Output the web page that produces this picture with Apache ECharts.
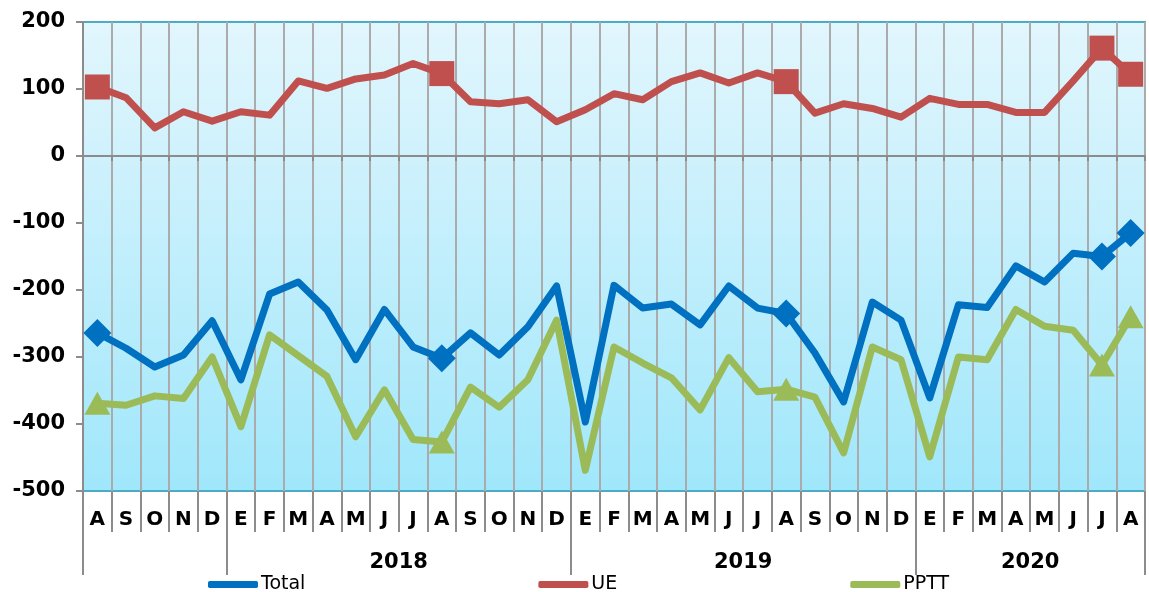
<!DOCTYPE html>
<html>
<head>
<meta charset="utf-8">
<script src="https://cdn.jsdelivr.net/npm/echarts@6/dist/echarts.min.js"></script>
<style>
    html, body { margin: 0; padding: 0; background: #fff; }
    #chart { width: 1149px; height: 592px; }
</style>
</head>
<body>
<div id="chart"></div>
<script>
// months Aug 2017 .. Aug 2020
var months = ["A", "S", "O", "N", "D",
    "E", "F", "M", "A", "M", "J", "J", "A", "S", "O", "N", "D",
    "E", "F", "M", "A", "M", "J", "J", "A", "S", "O", "N", "D",
    "E", "F", "M", "A", "M", "J", "J", "A"];
var years = ["2018", "2019", "2020"];
var yearLabelAt = [11, 23, 33];      // boundary index where each year label is centred
var yearBreaks = [0, 5, 17, 29, 37]; // boundaries drawn long
var markedIdx = [0, 12, 24, 35, 36];

var totalValues = [-264, -287, -315, -297, -246, -334, -206, -188, -230, -304, -229, -285, -302,
    -264, -297, -255, -194, -397, -193, -227, -221, -252, -194, -227, -235, -294, -367, -218,
    -245, -361, -222, -226, -164, -188, -145, -150, -115];
var ueValues = [103, 87, 42, 66, 52, 66, 61, 112, 101, 115, 121, 138, 123, 81, 78, 84, 51, 69,
    93, 84, 111, 124, 109, 124, 111, 64, 78, 71, 58, 86, 77, 77, 65, 65, 112, 161, 122];
var ppttValues = [-369, -372, -358, -362, -300, -404, -267, -298, -329, -419, -349, -423, -427,
    -345, -375, -334, -245, -469, -285, -309, -331, -379, -301, -352, -348, -360, -443, -285,
    -304, -449, -300, -304, -229, -254, -260, -312, -240];

var font = "DejaVu Sans";
var gray = "#8c8c8c";

var yearAxisData = [];
for (var i = 0; i <= months.length; i++) {
    var k = yearLabelAt.indexOf(i);
    yearAxisData.push(k >= 0 ? years[k] : "");
}

function mkSeries(name, values, color, symbol, size) {
    return {
        name: name,
        type: "line",
        data: values,
        xAxisIndex: 0,
        symbol: symbol,
        symbolSize: function (v, p) {
            return markedIdx.indexOf(p.dataIndex) >= 0 ? size : 0;
        },
        showAllSymbol: true,
        lineStyle: { color: color, width: 7, join: "round" },
        itemStyle: { color: color },
        emphasis: { disabled: true },
        animation: false
    };
}

var chart = echarts.init(document.getElementById("chart"));
chart.setOption({
    animation: false,
    textStyle: { fontFamily: font },
    grid: {
        left: 83, right: 4, top: 22, bottom: 101,
        show: true,
        borderColor: "#4bacc6",
        borderWidth: 2,
        backgroundColor: {
            type: "linear", x: 0, y: 0, x2: 0, y2: 1,
            colorStops: [{ offset: 0, color: "#e2f6fd" }, { offset: 1, color: "#a0e7fb" }]
        }
    },
    legend: {
        left: 203, top: 570,
        itemWidth: 50, itemHeight: 7, itemGap: 233,
        icon: "roundRect",
        textStyle: { fontFamily: font, fontSize: 19, color: "#000", padding: [0, 0, 0, -2] },
        data: ["Total", "UE", "PPTT"]
    },
    xAxis: [{
        // month letters
        type: "category",
        data: months,
        position: "bottom",
        axisLine: { show: false, onZero: false },
        axisTick: { show: true, interval: 0, length: 41, lineStyle: { color: gray, width: 2 } },
        axisLabel: { interval: 0, margin: 19, fontSize: 20, fontWeight: "bold", color: "#000", fontFamily: font },
        splitLine: { show: true, interval: 0, lineStyle: { color: "#ababab", width: 2 } }
    }, {
        // axis line crossing at zero
        type: "category",
        data: months,
        position: "bottom",
        axisLine: { show: true, onZero: true, lineStyle: { color: gray, width: 2 } },
        axisTick: { show: true, interval: 0, length: 5, lineStyle: { color: gray, width: 2 } },
        axisLabel: { show: false },
        splitLine: { show: false }
    }, {
        // year level
        type: "category",
        data: yearAxisData,
        boundaryGap: false,
        position: "bottom",
        axisLine: { show: false, onZero: false },
        axisTick: {
            show: true, length: 84,
            interval: function (idx) { return yearBreaks.indexOf(idx) >= 0; },
            lineStyle: { color: gray, width: 2 }
        },
        axisLabel: { interval: 0, margin: 61, fontSize: 21, fontWeight: "bold", color: "#000", fontFamily: font },
        splitLine: { show: false }
    }],
    yAxis: {
        type: "value",
        min: -500, max: 200, interval: 100,
        axisLine: { show: true, lineStyle: { color: gray, width: 2 } },
        axisTick: { show: true, length: 7, lineStyle: { color: gray, width: 2 } },
        axisLabel: { fontSize: 21, fontWeight: "bold", color: "#000", margin: 18, fontFamily: font },
        splitLine: { show: false }
    },
    series: [
        mkSeries("Total", totalValues, "#0070c0", "diamond", 28),
        mkSeries("UE", ueValues, "#c0504d", "rect", 25),
        mkSeries("PPTT", ppttValues, "#9bbb59", "triangle", [26, 23])
    ]
});
</script>
</body>
</html>
